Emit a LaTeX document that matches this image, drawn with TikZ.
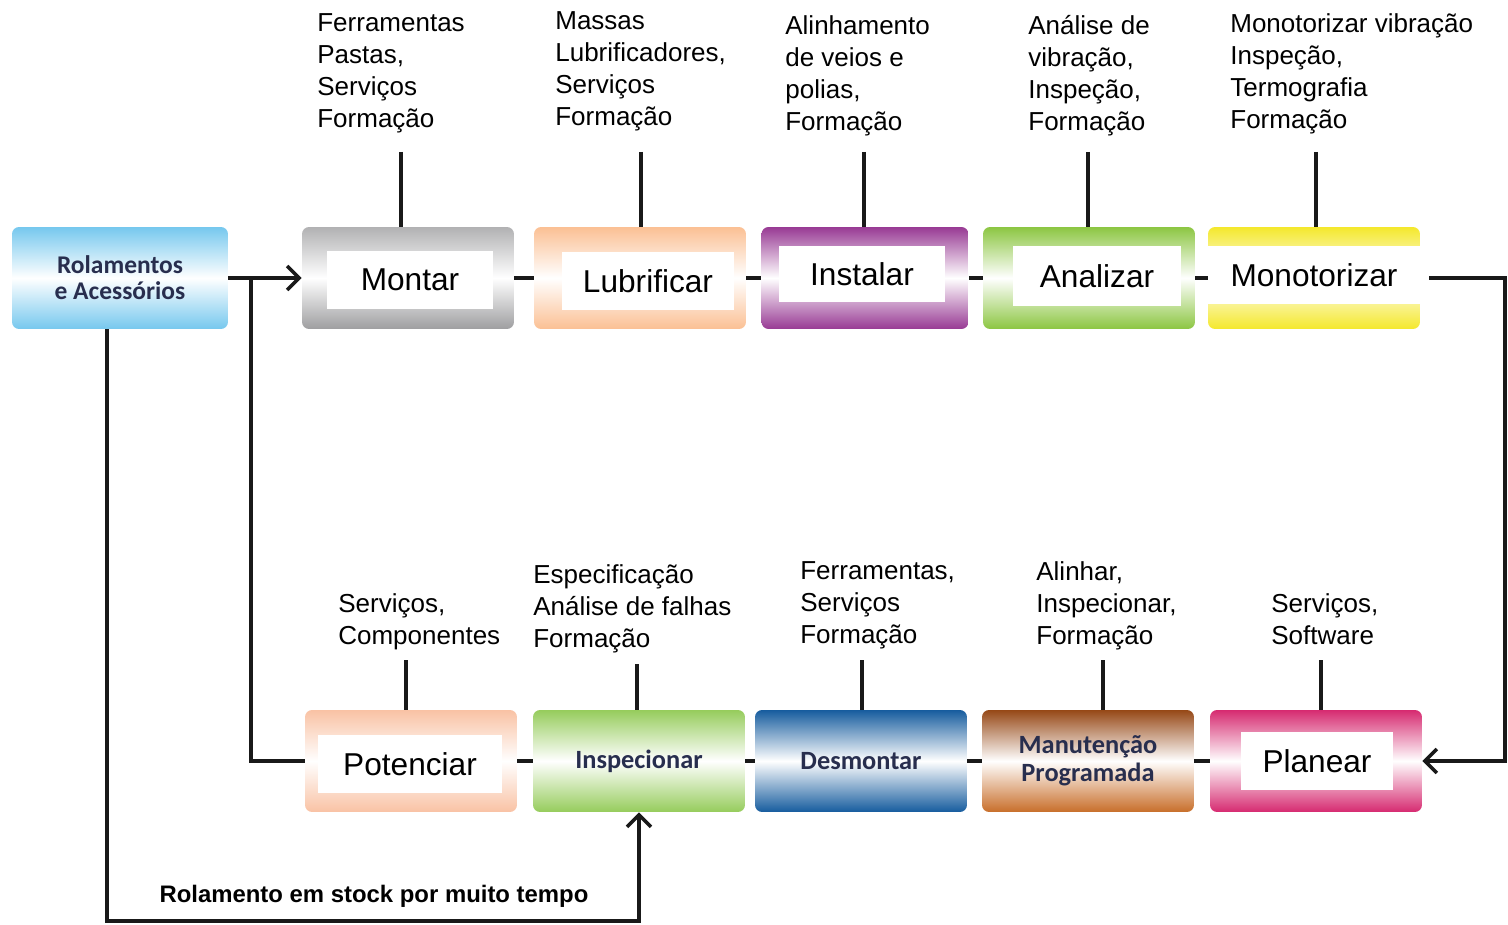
\documentclass[tikz,border=0pt]{standalone}
\usepackage{fontspec}
\setmainfont{Liberation Sans}
\newfontfamily\boxfont{Carlito}
\usepackage{tikz}
\usetikzlibrary{arrows.meta}
\definecolor{stageblue}{RGB}{118,200,238}
\definecolor{stagegrey}{RGB}{158,158,160}
\definecolor{stagepeach}{RGB}{251,192,148}
\definecolor{stagesalmon}{RGB}{249,194,164}
\definecolor{stagepurple}{RGB}{152,58,148}
\definecolor{stagegreen}{RGB}{140,198,66}
\definecolor{stagelime}{RGB}{150,204,92}
\definecolor{stageyellow}{RGB}{244,232,44}
\definecolor{stagenavy}{RGB}{22,92,158}
\definecolor{stagebrown}{RGB}{150,72,22}
\definecolor{stageorange}{RGB}{200,110,42}
\definecolor{stagepink}{RGB}{214,42,112}
\definecolor{boxtext}{RGB}{40,46,78}

\begin{document}
\begin{tikzpicture}[x=0.02cm, y=-0.02cm,
    stage/.style={rounded corners=4pt, minimum width=4.24cm, minimum height=2.04cm, inner sep=0pt},
    tint/.style={top color=#1, bottom color=#1, middle color=white},
    tag/.style={fill=white, minimum width=3.34cm, minimum height=1.16cm, inner sep=0pt, font=\fontsize{18}{20}\selectfont},
    stagetext/.style={font=\boxfont\bfseries\fontsize{15}{16}\selectfont, text=boxtext, align=center},
    note/.style={anchor=north west, align=left, inner sep=0pt, font=\fontsize{14.8}{18.2}\selectfont},
    link/.style={line width=2pt, black!90},
    arr/.style={link, -{Straight Barb[length=2.4mm, width=4.8mm, line width=2pt]}}]
    \useasboundingbox (0,0) rectangle (1508,925);

    % Upper row
    \node[stage, minimum width=4.32cm, tint=stageblue, stagetext, font=\boxfont\bfseries\fontsize{14.5}{14.8}\selectfont] (rolamentos) at (120,278) {Rolamentos\\e Acessórios};
    \node[stage, top color=stagegrey!80, bottom color=stagegrey, middle color=white] (montar) at (408,278) {};
    \node[stage, tint=stagepeach] (lubrificar) at (640,278) {};
    \node[stage, minimum width=4.14cm, tint=stagepurple] (instalar) at (865,278) {};
    \node[stage, tint=stagegreen] (analizar) at (1089,278) {};
    \node[stage, tint=stageyellow] (monotorizar) at (1314,278) {};

    \node[tag] (montar-tag) at (410,280) {Montar};
    \node[tag, minimum width=3.44cm] (lubrificar-tag) at (648,281) {Lubrificar};
    \node[tag, minimum height=1.14cm] (instalar-tag) at (862,274) {Instalar};
    \node[tag, minimum width=3.38cm, minimum height=1.22cm] (analizar-tag) at (1097,276) {Analizar};
    \node[tag, minimum width=4.24cm] (monotorizar-tag) at (1314,275) {Monotorizar};

    % Lower row
    \node[stage, tint=stagesalmon] (potenciar) at (411,761) {};
    \node[stage, tint=stagelime, stagetext] (inspecionar) at (639,761) {Inspecionar};
    \node[stage, tint=stagenavy, stagetext] (desmontar) at (861,761) {Desmontar};
    \node[stage, top color=stagebrown, bottom color=stageorange, middle color=white, stagetext] (manutencao) at (1088,761) {Manutenção\\Programada};
    \node[stage, tint=stagepink] (planear) at (1316,761) {};

    \node[tag, minimum width=3.68cm] (potenciar-tag) at (410,764) {Potenciar};
    \node[tag, minimum width=3.04cm] (planear-tag) at (1317,761) {Planear};

    % Notes above the stages
    \node[note] (n-montar) at (317,13) {Ferramentas\\Pastas,\\Serviços\\Formação};
    \node[note] (n-lubrificar) at (555,11) {Massas\\Lubrificadores,\\Serviços\\Formação};
    \node[note] (n-instalar) at (785,15) {Alinhamento\\de veios e\\polias,\\Formação};
    \node[note] (n-analizar) at (1028,15) {Análise de\\vibração,\\Inspeção,\\Formação};
    \node[note] (n-monotorizar) at (1230,13) {Monotorizar vibração\\Inspeção,\\Termografia\\Formação};

    \node[note] (n-potenciar) at (338,593) {Serviços,\\Componentes};
    \node[note] (n-inspecionar) at (533,564) {Especificação\\Análise de falhas\\Formação};
    \node[note] (n-desmontar) at (800,561) {Ferramentas,\\Serviços\\Formação};
    \node[note] (n-manutencao) at (1036,561) {Alinhar,\\Inspecionar,\\Formação};
    \node[note] (n-planear) at (1271,593) {Serviços,\\Software};

    \node[font=\bfseries\fontsize{13.6}{15}\selectfont, inner sep=0pt] (stock) at (374,896) {Rolamento em stock por muito tempo};

    % Ticks from the notes
    \coordinate (t1) at (401,152);
    \coordinate (t2) at (641,152);
    \coordinate (t3) at (864,152);
    \coordinate (t4) at (1088,152);
    \coordinate (t5) at (1316,152);
    \coordinate (b1) at (406,660);
    \coordinate (b2) at (637,664);
    \coordinate (b3) at (862,660);
    \coordinate (b4) at (1103,660);
    \coordinate (b5) at (1321,660);
    \draw[link] (t1) -- (t1 |- montar.north);
    \draw[link] (t2) -- (t2 |- lubrificar.north);
    \draw[link] (t3) -- (t3 |- instalar.north);
    \draw[link] (t4) -- (t4 |- analizar.north);
    \draw[link] (t5) -- (t5 |- monotorizar.north);
    \draw[link] (b1) -- (b1 |- potenciar.north);
    \draw[link] (b2) -- (b2 |- inspecionar.north);
    \draw[link] (b3) -- (b3 |- desmontar.north);
    \draw[link] (b4) -- (b4 |- manutencao.north);
    \draw[link] (b5) -- (b5 |- planear.north);

    % Chain links
    \draw[link] (montar) -- (lubrificar);
    \draw[link] (lubrificar) -- (instalar);
    \draw[link] (instalar) -- (analizar);
    \draw[link] (analizar) -- (monotorizar);
    \draw[link] (potenciar) -- (inspecionar);
    \draw[link] (inspecionar) -- (desmontar);
    \draw[link] (desmontar) -- (manutencao);
    \draw[link] (manutencao) -- (planear);

    % Loops
    \coordinate (jn) at (251,278);
    \coordinate (rt) at (1505,278);
    \coordinate (lp) at (107,921);
    \draw[arr] (rolamentos) -- (montar);
    \draw[link] (jn) |- (potenciar.west);
    \draw[arr] ([xshift=5]monotorizar.east) -- (rt) |- (planear.east);
    \draw[arr] (rolamentos.south -| lp) |- (inspecionar.south |- lp) -- (inspecionar.south);
\end{tikzpicture}
\end{document}
